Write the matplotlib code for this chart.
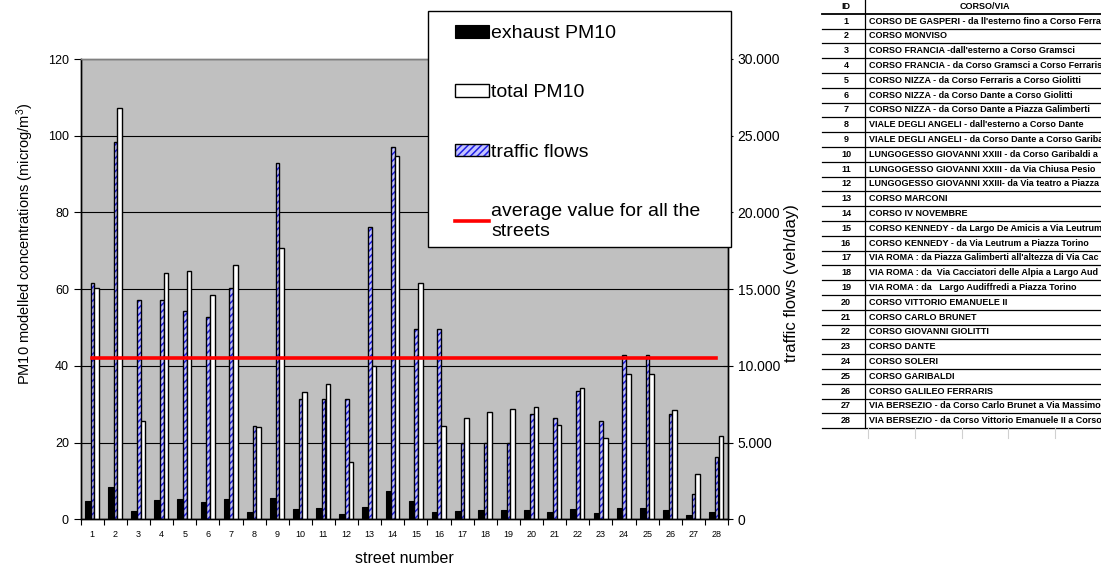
import matplotlib
matplotlib.use('Agg')
import matplotlib.pyplot as plt
import numpy as np
from matplotlib.ticker import FuncFormatter
from matplotlib.legend_handler import HandlerTuple
from matplotlib.lines import Line2D
from matplotlib.patches import Rectangle
from matplotlib import font_manager

# ---------------- data ----------------
streets = list(range(1, 29))
exhaust_pm10 = [4.8, 8.4, 2.2, 5.0, 5.2, 4.6, 5.3, 2.0, 5.6, 2.7, 2.9, 1.4, 3.3, 7.5,
                4.9, 2.0, 2.2, 2.3, 2.3, 2.3, 2.0, 2.8, 1.7, 3.0, 3.0, 2.3, 1.1, 1.8]
total_pm10 = [60.4, 107.2, 25.6, 64.1, 64.8, 58.5, 66.2, 24.0, 70.6, 33.1, 35.2, 14.9, 40.0, 94.6,
              61.6, 24.3, 26.3, 28.1, 28.7, 29.2, 24.6, 34.3, 21.1, 38.0, 37.8, 28.5, 11.7, 21.7]
traffic_flows = [15370, 24590, 14320, 14320, 13570, 13210, 15070, 6100, 23220, 7850, 7850, 7850,
                 19060, 24240, 12390, 12390, 5000, 5000, 5000, 6870, 6590, 8390, 6430, 10700,
                 10700, 6870, 1650, 4040]
average_value = 42.0
average_line = [average_value] * len(streets)

left_ticks = [0, 20, 40, 60, 80, 100, 120]
right_ticks = [0, 5000, 10000, 15000, 20000, 25000, 30000]

legend_labels = ['exhaust PM10', 'total PM10', 'traffic flows',
                 'average value for all the\nstreets']

table_ids = [str(i) for i in streets]
table_names = [
    "CORSO DE GASPERI - da ll'esterno fino a Corso Ferra",
    "CORSO MONVISO",
    "CORSO FRANCIA -dall'esterno a Corso Gramsci",
    "CORSO FRANCIA - da Corso Gramsci a Corso Ferraris",
    "CORSO NIZZA - da Corso Ferraris a Corso Giolitti",
    "CORSO NIZZA - da Corso Dante a Corso Giolitti",
    "CORSO NIZZA - da Corso Dante a Piazza Galimberti",
    "VIALE DEGLI ANGELI - dall'esterno a Corso Dante",
    "VIALE DEGLI ANGELI - da Corso Dante a Corso Gariba",
    "LUNGOGESSO GIOVANNI XXIII - da Corso Garibaldi a",
    "LUNGOGESSO GIOVANNI XXIII - da Via Chiusa Pesio",
    "LUNGOGESSO GIOVANNI XXIII- da Via teatro a Piazza",
    "CORSO MARCONI",
    "CORSO IV NOVEMBRE",
    "CORSO KENNEDY - da Largo De Amicis a Via Leutrum",
    "CORSO KENNEDY - da Via Leutrum a Piazza Torino",
    "VIA ROMA : da Piazza Galimberti all'altezza di Via Cac",
    "VIA ROMA : da  Via Cacciatori delle Alpia a Largo Aud",
    "VIA ROMA : da   Largo Audiffredi a Piazza Torino",
    "CORSO VITTORIO EMANUELE II",
    "CORSO CARLO BRUNET",
    "CORSO GIOVANNI GIOLITTI",
    "CORSO DANTE",
    "CORSO SOLERI",
    "CORSO GARIBALDI",
    "CORSO GALILEO FERRARIS",
    "VIA BERSEZIO - da Corso Carlo Brunet a Via Massimo",
    "VIA BERSEZIO - da Corso Vittorio Emanuele II a Corso",
]

# ---------------- style ----------------
plt.rcParams['font.family'] = ['Liberation Sans', 'DejaVu Sans']
plt.rcParams['mathtext.default'] = 'regular'
plt.rcParams['hatch.linewidth'] = 1.1

W_PX, H_PX = 1101, 567
def fx(px):
    return px / W_PX
def fy(py):
    return 1 - py / H_PX

fig = plt.figure(figsize=(W_PX / 100, H_PX / 100), dpi=100)
L, R, T, B = 80.7, 728.0, 59.0, 519.3
ax = fig.add_axes([fx(L), fy(B), fx(R) - fx(L), (B - T) / H_PX])
ax2 = ax.twinx()
ax.set_zorder(2)
ax2.set_zorder(1)
ax.patch.set_visible(False)
ax2.patch.set_visible(True)
ax2.patch.set_facecolor('#C0C0C0')

x = np.array(streets, dtype=float)

# traffic flows (secondary axis) - hatched blue
tf_fill = ax2.bar(x + 0.01, traffic_flows, width=0.156, facecolor='#C4C4FF',
                  edgecolor='#1E1EE6', hatch='/////', linewidth=0, zorder=2)
tf_edge = ax2.bar(x + 0.01, traffic_flows, width=0.156, facecolor='none',
                  edgecolor='black', linewidth=1.0, zorder=3)

# PM10 bars (primary axis)
ex_bars = ax.bar(x - 0.19, exhaust_pm10, width=0.246, color='black',
                 edgecolor='black', linewidth=0.8, zorder=2)
tot_bars = ax.bar(x + 0.19, total_pm10, width=0.2, color='white',
                  edgecolor='black', linewidth=1.0, zorder=2)
avg_line, = ax.plot(streets, average_line, color='#FF0000', linewidth=2.6, zorder=4)

ax.set_xlim(0.5, 28.5)
ax.set_ylim(0, 120)
ax2.set_ylim(0, 30000)

ax.set_xticks(streets)
ax.set_xticklabels([str(s) for s in streets])
ax.set_xticks(np.arange(0.5, 29, 1.0), minor=True)
ax.tick_params(axis='x', which='major', length=0, labelsize=6.5, pad=8)
ax.tick_params(axis='x', which='minor', length=4, direction='out', width=0.8)

ax.set_yticks(left_ticks)
ax.tick_params(axis='y', which='major', length=5, direction='out', labelsize=9, width=0.8)

ax2.set_yticks(right_ticks)
ax2.yaxis.set_major_formatter(FuncFormatter(lambda v, p: f"{int(v):,}".replace(',', '.')))
ax2.tick_params(axis='y', which='major', length=7, direction='inout', labelsize=10, width=0.8)

ax2.yaxis.grid(True, color='black', linewidth=0.8)
ax2.set_axisbelow(True)

for a in (ax, ax2):
    for s in ('left', 'right', 'bottom'):
        a.spines[s].set_color('black')
        a.spines[s].set_linewidth(1.0)
    a.spines['top'].set_color('#808080')
    a.spines['top'].set_linewidth(1.0)

ax.set_xlabel('street number', fontsize=11.5)
ax.xaxis.set_label_coords(0.5, -0.068)

ax.set_ylabel('PM10 modelled concentrations (microg/m$^3$)', fontsize=10.5)
ax.yaxis.label.set_verticalalignment('center')
ax.yaxis.label.set_horizontalalignment('center')
ax.yaxis.set_label_coords(-0.086, 0.598)

ax2.set_ylabel('traffic flows (veh/day)', fontsize=12, rotation=90)
ax2.yaxis.label.set_verticalalignment('center')
ax2.yaxis.label.set_horizontalalignment('center')
ax2.yaxis.set_label_coords(1.098, 0.514)

# ---------------- legend ----------------
box = Rectangle((fx(428), fy(247)), fx(731) - fx(428), (247 - 11) / H_PX,
                transform=fig.transFigure, facecolor='white', edgecolor='black',
                linewidth=1.0, zorder=5)
fig.add_artist(box)
leg = fig.legend(handles=[ex_bars, tot_bars, (tf_fill, tf_edge), avg_line],
                 labels=legend_labels, loc='upper left',
                 bbox_to_anchor=(fx(455), fy(25)), frameon=False, fontsize=14,
                 handlelength=1.75, handleheight=0.62, handletextpad=0.1,
                 labelspacing=2.17, borderpad=0, borderaxespad=0,
                 handler_map={tuple: HandlerTuple(ndivide=1)})
leg.set_zorder(6)

# ---------------- table ----------------
avail = {f.name for f in font_manager.fontManager.ttflist}
if 'Liberation Sans Narrow' in avail:
    tfam, tsize = ['Liberation Sans Narrow', 'DejaVu Sans'], 7.8
else:
    tfam, tsize = ['Liberation Sans', 'DejaVu Sans'], 6.5

tab_top, row_h = 13.7, 14.8
n_rows = len(table_ids)
tab_bottom = tab_top + n_rows * row_h
fig.text(fx(846), fy(6.5), 'ID', ha='center', va='center', fontsize=tsize,
         fontweight='bold', family=tfam)
fig.text(fx(985), fy(6.5), 'CORSO/VIA', ha='center', va='center', fontsize=tsize,
         fontweight='bold', family=tfam)
for k in range(n_rows + 1):
    yk = tab_top + k * row_h
    fig.add_artist(Line2D([fx(822), fx(1101)], [fy(yk), fy(yk)], transform=fig.transFigure,
                          color='black', linewidth=1.3 if k == 0 else 0.9))
fig.add_artist(Line2D([fx(865), fx(865)], [fy(0), fy(tab_bottom)], transform=fig.transFigure,
                      color='black', linewidth=0.9))
for xg in (868, 915, 962, 1008, 1055):
    fig.add_artist(Line2D([fx(xg), fx(xg)], [fy(tab_bottom), fy(438)], transform=fig.transFigure,
                          color='#D0D0D0', linewidth=0.8))
for k, (tid, name) in enumerate(zip(table_ids, table_names)):
    yc = tab_top + (k + 0.5) * row_h
    fig.text(fx(846), fy(yc), tid, ha='center', va='center', fontsize=tsize,
             fontweight='bold', family=tfam)
    fig.text(fx(869), fy(yc), name, ha='left', va='center', fontsize=tsize,
             fontweight='bold', family=tfam)

fig.savefig('out.png', dpi=100)
